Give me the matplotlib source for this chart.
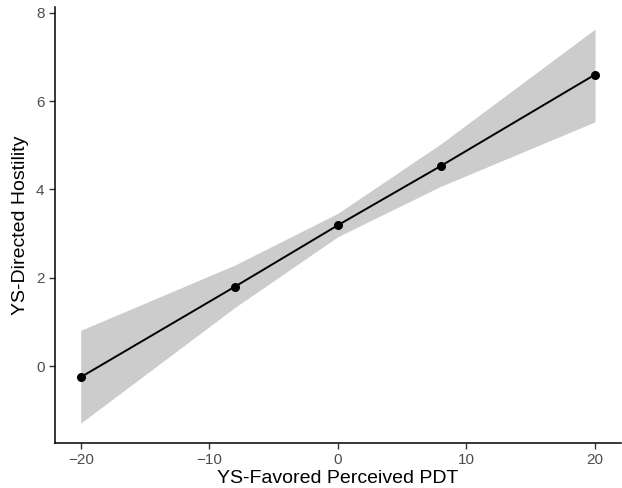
import matplotlib
matplotlib.use("Agg")
import matplotlib.pyplot as plt

plt.rcParams['font.family'] = ['Liberation Sans', 'DejaVu Sans']

# predicted hostility at values of perceived PDT
pdt = [-20, -8, 0, 8, 20]
hostility = [-0.25, 1.80, 3.19, 4.53, 6.60]
ci_low = [-1.29, 1.33, 2.93, 4.07, 5.53]
ci_high = [0.81, 2.29, 3.46, 5.03, 7.63]

fig = plt.figure(figsize=(6.22, 4.88), dpi=100)
ax = fig.add_axes([0.0884, 0.0922, 0.9096, 0.8935])

ax.fill_between(pdt, ci_low, ci_high, color='#cccccc', linewidth=0, zorder=1)
ax.plot(pdt, hostility, color='black', linewidth=1.4, zorder=2)
ax.scatter(pdt, hostility, color='black', s=30, zorder=3)

ax.set_xlim(-22, 22)
ax.set_ylim(-1.74, 8.13)
ax.set_xticks([-20, -10, 0, 10, 20])
ax.set_yticks([0, 2, 4, 6, 8])

for side in ['top', 'right']:
    ax.spines[side].set_visible(False)
for side in ['left', 'bottom']:
    ax.spines[side].set_color('black')
    ax.spines[side].set_linewidth(1.1)

ax.tick_params(axis='both', colors='#333333', labelcolor='#4d4d4d',
               labelsize=11, length=4, width=1)
ax.set_xlabel('YS-Favored Perceived PDT', fontsize=14, labelpad=2)
ax.set_ylabel('YS-Directed Hostility', fontsize=14, labelpad=5)

fig.savefig('out.png', dpi=100)
